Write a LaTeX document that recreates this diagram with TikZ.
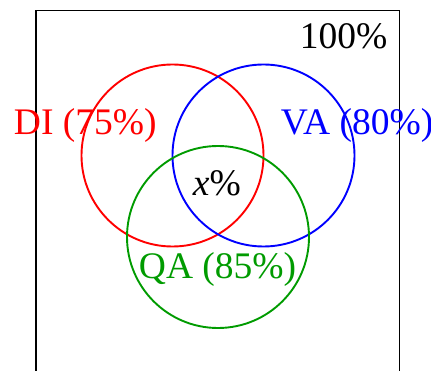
\documentclass[tikz,border=0pt]{standalone}
\usepackage{fontspec}
\setmainfont{Liberation Serif}
\definecolor{qagreen}{RGB}{0,155,0}
\begin{document}
\begin{tikzpicture}[x=1pt, y=1pt, line width=1.9pt,
  set/.style={circle, draw, inner sep=0pt, minimum size=182pt},
  lbl/.style={anchor=base west, inner sep=0pt, font=\fontsize{37.5}{40}\selectfont}]
  \useasboundingbox (0,0) rectangle (431,370);
  \draw (36,-5) rectangle (399.5,359.5);
  \node[set, red] (di) at (172.5,214.5) {};
  \node[set, blue] (va) at (263.5,214.5) {};
  \node[set, qagreen] (qa) at (218,133) {};
  \node[lbl] (all) at (299,321) {100\%};
  \node[lbl, red] (dilbl) at (13,235) {DI (75\%)};
  \node[lbl, blue] (valbl) at (280,235) {VA (80\%)};
  \node[lbl, qagreen] (qalbl) at (138,92) {QA (85\%)};
  \node[lbl] (xlbl) at (192,175) {\textit{x}\%};
\end{tikzpicture}
\end{document}
